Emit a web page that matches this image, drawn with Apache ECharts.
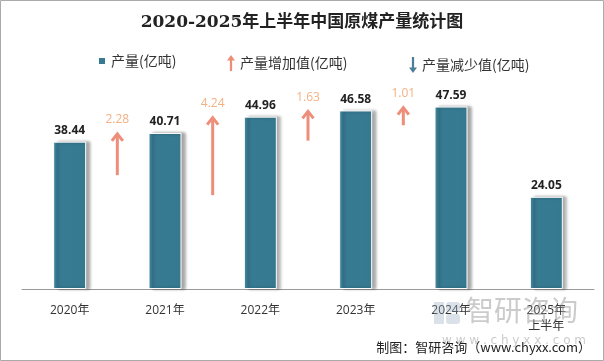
<!DOCTYPE html>
<html><head><meta charset="utf-8">
<script src="https://cdn.jsdelivr.net/npm/echarts@6/dist/echarts.min.js"></script>
<style>html,body{margin:0;padding:0;background:#fff}#c{width:604px;height:361px}</style>
</head><body><div id="c"></div>
<script>
var categories = ['2020年', '2021年', '2022年', '2023年', '2024年', '2025年\n上半年'];
var production = [38.44, 40.71, 44.96, 46.58, 47.59, 24.05];
var increases = [2.28, 4.24, 1.63, 1.01];   // between consecutive years
var decreases = [];
var yTicks = { min: 0, max: 60 };

var ARROW_SCALE = 4.83; // visual exaggeration of arrow length
var arrowData = increases.map(function (d, i) { return [i + 1, production[i + 1], d]; });

var chart = echarts.init(document.getElementById('c'));
var cjk = '"Noto Sans CJK SC", "Noto Sans", sans-serif';
var upPath = 'path://M5,0 L10,7 L6.4,7 L6.4,20 L3.6,20 L3.6,7 L0,7 Z';
var downPath = 'path://M5,20 L10,13 L6.4,13 L6.4,0 L3.6,0 L3.6,13 L0,13 Z';

function renderArrow(params, api) {
  var idx = api.value(0), cur = api.value(1), diff = api.value(2);
  var head = api.coord([idx, cur]);
  var tail = api.coord([idx, cur - diff * ARROW_SCALE]);
  var half = api.size([1, 0])[0] / 2;
  var x = head[0] - half;
  var col = '#EE8E7A';
  return {
    type: 'group',
    children: [
      { type: 'line', shape: { x1: x, y1: tail[1], x2: x, y2: head[1] + 1 }, style: { stroke: col, lineWidth: 3 } },
      { type: 'polyline', shape: { points: [[x - 5.5, head[1] + 8], [x, head[1] + 1], [x + 5.5, head[1] + 8]] }, style: { stroke: col, lineWidth: 3, fill: null } },
      { type: 'text', x: x, y: head[1] - 7, style: { text: diff.toFixed(2), fill: '#F4B183', font: '12px "Open Sans", sans-serif', textAlign: 'center', textVerticalAlign: 'bottom' } }
    ]
  };
}

chart.setOption({
  animation: false,
  title: {
    text: '2020-2025年上半年中国原煤产量统计图',
    left: 'center', top: 9,
    textStyle: { fontSize: 17, fontWeight: 'bold', color: '#222', fontFamily: '"DejaVu Serif", "Noto Sans CJK SC", serif' }
  },
  legend: [
    { left: 92, top: 49, itemWidth: 8, itemHeight: 8, icon: 'rect', data: ['产量(亿吨)'],
      textStyle: { fontSize: 14, color: '#333', fontFamily: cjk } },
    { left: 222, top: 50, itemWidth: 8, itemHeight: 20, data: [{ name: '产量增加值(亿吨)', icon: upPath }],
      textStyle: { fontSize: 14, color: '#333', fontFamily: cjk } },
    { left: 404, top: 52, itemWidth: 8, itemHeight: 20, data: [{ name: '产量减少值(亿吨)', icon: downPath }],
      textStyle: { fontSize: 14, color: '#333', fontFamily: cjk } }
  ],
  grid: { left: 22, right: 10, top: 59, bottom: 72 },
  xAxis: {
    type: 'category', data: categories,
    axisLine: { lineStyle: { color: '#999' } },
    axisTick: { length: 5, lineStyle: { color: '#999' } },
    axisLabel: { color: '#333', fontSize: 12, margin: 14, lineHeight: 16, fontFamily: '"Open Sans", "Noto Sans CJK SC", sans-serif' }
  },
  yAxis: { type: 'value', min: yTicks.min, max: yTicks.max, show: false, splitLine: { show: false } },
  series: [
    {
      name: '产量(亿吨)', type: 'bar', data: production, barWidth: 33,
      itemStyle: {
        color: new echarts.graphic.LinearGradient(0, 0, 1, 0, [
          { offset: 0, color: '#4b8ca4' }, { offset: 0.12, color: '#377b93' }, { offset: 1, color: '#36798f' }
        ]),
        borderColor: '#fff', borderWidth: 1,
        shadowColor: 'rgba(0,0,0,0.35)', shadowOffsetX: 4, shadowBlur: 3
      },
      label: { show: true, position: 'top', distance: 5, color: '#222', fontSize: 12, fontWeight: 'bold', fontFamily: '"Open Sans", sans-serif' }
    },
    {
      name: '产量增加值(亿吨)', type: 'custom', data: arrowData, renderItem: renderArrow,
      itemStyle: { color: '#EE8E7A' }, encode: { x: 0, y: 1 }, z: 3
    },
    {
      name: '产量减少值(亿吨)', type: 'custom', data: decreases, renderItem: function () { return null; },
      itemStyle: { color: '#4F7F98' }
    }
  ],
  graphic: [
    { type: 'rect', shape: { x: 0.5, y: 0.5, width: 603, height: 360 }, style: { fill: null, stroke: '#aaa', lineWidth: 1 }, z: 100 },
    { type: 'rect', shape: { x: 434, y: 302, width: 10, height: 22 }, style: { fill: 'rgba(150,170,190,0.35)' }, z: 50 },
    { type: 'rect', shape: { x: 446, y: 302, width: 14, height: 10, r: 3 }, style: { fill: 'rgba(150,170,190,0.35)' }, z: 50 },
    { type: 'rect', shape: { x: 446, y: 314, width: 14, height: 10, r: 3 }, style: { fill: 'rgba(150,170,190,0.35)' }, z: 50 },
    { type: 'text', left: 466, top: 296, style: { text: '智研咨询', fill: 'rgba(140,140,140,0.45)', font: '28px "Noto Sans CJK SC", sans-serif' }, z: 50 },
    { type: 'text', left: 442, top: 335, style: { text: 'w w w . c h y x x . c o m', fill: 'rgba(140,140,140,0.45)', font: '12px "DejaVu Sans", sans-serif' }, z: 50 },
    { type: 'text', right: 13, top: 341, style: { text: '制图：智研咨询（www.chyxx.com）', fill: '#222', font: '13px "Noto Sans CJK SC", sans-serif' }, z: 60 }
  ]
});
</script></body></html>
